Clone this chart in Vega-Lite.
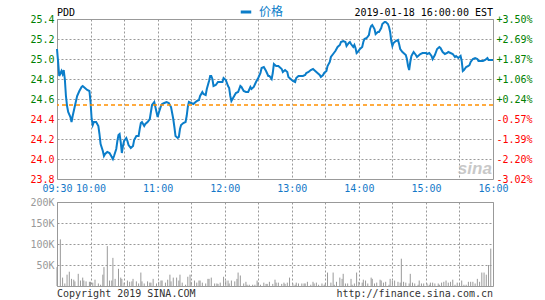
{
  "$schema": "https://vega.github.io/schema/vega-lite/v6.json",
  "padding": {"left": 29, "top": 4, "right": 8, "bottom": 0},
  "background": "white",
  "spacing": 2,
  "config": {
    "font": "DejaVu Sans Mono",
    "view": {"stroke": "#999", "strokeWidth": 1},
    "axis": {"domain": false, "ticks": false, "labelFont": "DejaVu Sans Mono", "labelFontSize": 10, "gridColor": "#999", "gridDash": [2, 2], "gridWidth": 1, "gridOpacity": 1, "labelPadding": 3, "title": null, "labelFlush": false, "labelOverlap": false}
  },
  "resolve": {"legend": {"color": "independent"}},
  "datasets": {
    "price": [
      {"m":0,"p":25.10},{"m":1,"p":24.97},{"m":2,"p":24.83},{"m":4,"p":24.88},{"m":5,"p":24.85},{"m":6,"p":24.89},{"m":7,"p":24.80},{"m":8,"p":24.63},{"m":9,"p":24.53},{"m":10,"p":24.47},
      {"m":12,"p":24.42},{"m":13,"p":24.37},{"m":14,"p":24.43},{"m":16,"p":24.53},{"m":18,"p":24.63},{"m":20,"p":24.68},{"m":22,"p":24.72},{"m":23,"p":24.73},{"m":25,"p":24.71},{"m":27,"p":24.69},
      {"m":29,"p":24.68},{"m":30,"p":24.57},{"m":31,"p":24.40},{"m":32,"p":24.34},{"m":33,"p":24.37},{"m":35,"p":24.37},{"m":37,"p":24.33},{"m":38,"p":24.25},{"m":39,"p":24.15},{"m":41,"p":24.08},
      {"m":42,"p":24.03},{"m":43,"p":24.05},{"m":45,"p":24.07},{"m":47,"p":24.06},{"m":48,"p":24.04},{"m":50,"p":24.00},{"m":51,"p":24.03},{"m":53,"p":24.10},{"m":54,"p":24.18},{"m":55,"p":24.24},
      {"m":56,"p":24.25},{"m":57,"p":24.17},{"m":58,"p":24.06},{"m":59,"p":24.13},{"m":60,"p":24.18},{"m":62,"p":24.21},{"m":63,"p":24.18},{"m":64,"p":24.14},{"m":66,"p":24.11},{"m":68,"p":24.13},
      {"m":69,"p":24.19},{"m":71,"p":24.23},{"m":73,"p":24.23},{"m":74,"p":24.30},{"m":75,"p":24.36},{"m":76,"p":24.37},{"m":78,"p":24.33},{"m":79,"p":24.35},{"m":81,"p":24.37},{"m":83,"p":24.40},
      {"m":84,"p":24.47},{"m":85,"p":24.54},{"m":87,"p":24.57},{"m":88,"p":24.52},{"m":89,"p":24.47},{"m":90,"p":24.42},{"m":91,"p":24.46},{"m":93,"p":24.53},{"m":94,"p":24.55},{"m":96,"p":24.56},
      {"m":98,"p":24.57},{"m":100,"p":24.56},{"m":102,"p":24.52},{"m":103,"p":24.46},{"m":104,"p":24.40},{"m":105,"p":24.32},{"m":106,"p":24.23},{"m":108,"p":24.21},{"m":109,"p":24.22},{"m":110,"p":24.30},
      {"m":111,"p":24.34},{"m":113,"p":24.36},{"m":115,"p":24.37},{"m":116,"p":24.43},{"m":117,"p":24.52},{"m":118,"p":24.57},{"m":120,"p":24.56},{"m":122,"p":24.55},{"m":124,"p":24.57},{"m":125,"p":24.58},
      {"m":127,"p":24.59},{"m":128,"p":24.63},{"m":130,"p":24.67},{"m":131,"p":24.65},{"m":133,"p":24.64},{"m":134,"p":24.70},{"m":136,"p":24.78},{"m":137,"p":24.83},{"m":138,"p":24.83},{"m":139,"p":24.80},
      {"m":140,"p":24.73},{"m":142,"p":24.74},{"m":144,"p":24.77},{"m":146,"p":24.77},{"m":148,"p":24.77},{"m":149,"p":24.81},{"m":151,"p":24.79},{"m":153,"p":24.73},{"m":154,"p":24.71},{"m":155,"p":24.63},
      {"m":156,"p":24.58},{"m":158,"p":24.62},{"m":160,"p":24.66},{"m":162,"p":24.67},{"m":164,"p":24.73},{"m":165,"p":24.72},{"m":167,"p":24.68},{"m":169,"p":24.67},{"m":171,"p":24.67},{"m":173,"p":24.72},
      {"m":174,"p":24.70},{"m":176,"p":24.72},{"m":178,"p":24.77},{"m":180,"p":24.81},{"m":182,"p":24.86},{"m":183,"p":24.91},{"m":185,"p":24.92},{"m":187,"p":24.88},{"m":189,"p":24.83},{"m":190,"p":24.83},
      {"m":192,"p":24.80},{"m":193,"p":24.86},{"m":194,"p":24.95},{"m":196,"p":24.93},{"m":198,"p":24.93},{"m":199,"p":24.92},{"m":201,"p":24.90},{"m":202,"p":24.87},{"m":204,"p":24.89},{"m":206,"p":24.87},
      {"m":207,"p":24.82},{"m":209,"p":24.80},{"m":211,"p":24.78},{"m":213,"p":24.77},{"m":214,"p":24.81},{"m":216,"p":24.83},{"m":218,"p":24.83},{"m":220,"p":24.83},{"m":222,"p":24.84},{"m":223,"p":24.86},
      {"m":225,"p":24.87},{"m":227,"p":24.89},{"m":229,"p":24.90},{"m":230,"p":24.89},{"m":232,"p":24.87},{"m":233,"p":24.86},{"m":235,"p":24.84},{"m":236,"p":24.82},{"m":238,"p":24.84},{"m":239,"p":24.86},
      {"m":241,"p":24.88},{"m":242,"p":24.93},{"m":244,"p":24.97},{"m":245,"p":25.02},{"m":247,"p":25.05},{"m":249,"p":25.08},{"m":251,"p":25.12},{"m":253,"p":25.14},{"m":254,"p":25.17},{"m":256,"p":25.18},
      {"m":258,"p":25.17},{"m":259,"p":25.13},{"m":261,"p":25.16},{"m":262,"p":25.17},{"m":263,"p":25.15},{"m":265,"p":25.12},{"m":266,"p":25.14},{"m":267,"p":25.11},{"m":268,"p":25.06},{"m":269,"p":25.07},
      {"m":271,"p":25.10},{"m":273,"p":25.12},{"m":274,"p":25.17},{"m":275,"p":25.20},{"m":277,"p":25.21},{"m":279,"p":25.24},{"m":280,"p":25.30},{"m":281,"p":25.33},{"m":282,"p":25.34},{"m":284,"p":25.30},
      {"m":285,"p":25.25},{"m":287,"p":25.27},{"m":288,"p":25.27},{"m":290,"p":25.31},{"m":291,"p":25.35},{"m":293,"p":25.37},{"m":294,"p":25.37},{"m":296,"p":25.35},{"m":297,"p":25.32},{"m":298,"p":25.27},
      {"m":299,"p":25.18},{"m":300,"p":25.13},{"m":301,"p":25.16},{"m":303,"p":25.18},{"m":305,"p":25.19},{"m":306,"p":25.15},{"m":307,"p":25.10},{"m":309,"p":25.07},{"m":310,"p":25.06},{"m":312,"p":25.04},
      {"m":313,"p":25.00},{"m":314,"p":24.93},{"m":315,"p":24.89},{"m":316,"p":24.97},{"m":317,"p":25.03},{"m":318,"p":25.05},{"m":319,"p":25.07},{"m":321,"p":25.04},{"m":322,"p":25.02},{"m":323,"p":25.03},
      {"m":325,"p":25.05},{"m":327,"p":25.06},{"m":330,"p":25.06},{"m":331,"p":25.05},{"m":333,"p":25.06},{"m":335,"p":25.03},{"m":336,"p":25.00},{"m":338,"p":25.04},{"m":340,"p":25.10},{"m":342,"p":25.12},
      {"m":343,"p":25.11},{"m":345,"p":25.07},{"m":347,"p":25.05},{"m":349,"p":25.06},{"m":350,"p":25.07},{"m":352,"p":25.06},{"m":354,"p":25.05},{"m":356,"p":25.02},{"m":357,"p":25.03},{"m":359,"p":25.01},
      {"m":361,"p":25.03},{"m":362,"p":24.98},{"m":363,"p":24.88},{"m":364,"p":24.89},{"m":366,"p":24.92},{"m":368,"p":24.93},{"m":369,"p":24.94},{"m":370,"p":24.97},{"m":372,"p":25.00},{"m":374,"p":25.01},
      {"m":376,"p":25.00},{"m":377,"p":24.98},{"m":379,"p":24.98},{"m":381,"p":24.98},{"m":383,"p":24.99},{"m":385,"p":25.01},{"m":386,"p":24.99},{"m":388,"p":24.99},{"m":390,"p":24.99}
    ],
    "volume": [
      {"m":0,"v":45000},{"m":3,"v":111000},{"m":5,"v":20000},{"m":7,"v":6000},{"m":9,"v":27000},{"m":11,"v":34000},{"m":13,"v":17000},{"m":15,"v":15000},{"m":16,"v":11000},{"m":19,"v":29000},
      {"m":21,"v":13000},{"m":23,"v":20000},{"m":24,"v":13000},{"m":26,"v":11000},{"m":29,"v":10000},{"m":30,"v":10000},{"m":32,"v":8000},{"m":34,"v":15000},{"m":37,"v":6000},{"m":39,"v":3000},
      {"m":41,"v":27000},{"m":42,"v":45000},{"m":45,"v":95000},{"m":47,"v":13000},{"m":49,"v":13000},{"m":50,"v":67000},{"m":52,"v":17000},{"m":55,"v":41000},{"m":57,"v":20000},{"m":58,"v":17000},
      {"m":60,"v":8000},{"m":63,"v":13000},{"m":65,"v":10000},{"m":67,"v":11000},{"m":68,"v":17000},{"m":71,"v":11000},{"m":73,"v":6000},{"m":75,"v":32000},{"m":76,"v":11000},{"m":78,"v":6000},
      {"m":81,"v":11000},{"m":83,"v":8000},{"m":84,"v":8000},{"m":86,"v":17000},{"m":89,"v":6000},{"m":91,"v":10000},{"m":93,"v":13000},{"m":94,"v":13000},{"m":97,"v":8000},{"m":99,"v":15000},
      {"m":101,"v":27000},{"m":102,"v":11000},{"m":104,"v":20000},{"m":107,"v":20000},{"m":109,"v":13000},{"m":110,"v":27000},{"m":112,"v":8000},{"m":115,"v":3000},{"m":117,"v":22000},{"m":119,"v":27000},
      {"m":120,"v":10000},{"m":123,"v":13000},{"m":125,"v":8000},{"m":127,"v":13000},{"m":128,"v":13000},{"m":130,"v":8000},{"m":133,"v":6000},{"m":135,"v":17000},{"m":136,"v":17000},{"m":138,"v":20000},
      {"m":141,"v":6000},{"m":143,"v":6000},{"m":144,"v":5000},{"m":146,"v":8000},{"m":149,"v":22000},{"m":151,"v":13000},{"m":153,"v":13000},{"m":154,"v":6000},{"m":156,"v":13000},{"m":159,"v":11000},
      {"m":161,"v":17000},{"m":162,"v":32000},{"m":164,"v":25000},{"m":167,"v":6000},{"m":169,"v":10000},{"m":170,"v":3000},{"m":172,"v":3000},{"m":175,"v":3000},{"m":177,"v":3000},{"m":179,"v":13000},
      {"m":180,"v":8000},{"m":182,"v":3000},{"m":185,"v":8000},{"m":187,"v":5000},{"m":188,"v":5000},{"m":190,"v":10000},{"m":193,"v":5000},{"m":195,"v":15000},{"m":196,"v":8000},{"m":198,"v":8000},
      {"m":201,"v":5000},{"m":203,"v":8000},{"m":204,"v":5000},{"m":206,"v":8000},{"m":208,"v":20000},{"m":211,"v":6000},{"m":213,"v":3000},{"m":214,"v":8000},{"m":216,"v":6000},{"m":219,"v":6000},
      {"m":221,"v":6000},{"m":222,"v":6000},{"m":224,"v":10000},{"m":227,"v":3000},{"m":229,"v":10000},{"m":230,"v":6000},{"m":232,"v":8000},{"m":234,"v":3000},{"m":237,"v":6000},{"m":239,"v":3000},
      {"m":240,"v":6000},{"m":242,"v":32000},{"m":245,"v":8000},{"m":247,"v":32000},{"m":248,"v":3000},{"m":250,"v":10000},{"m":253,"v":20000},{"m":255,"v":17000},{"m":256,"v":29000},{"m":258,"v":6000},
      {"m":260,"v":6000},{"m":263,"v":17000},{"m":264,"v":3000},{"m":266,"v":6000},{"m":268,"v":32000},{"m":270,"v":10000},{"m":273,"v":8000},{"m":274,"v":15000},{"m":276,"v":13000},{"m":278,"v":6000},
      {"m":281,"v":20000},{"m":282,"v":17000},{"m":284,"v":6000},{"m":286,"v":8000},{"m":289,"v":15000},{"m":290,"v":13000},{"m":292,"v":8000},{"m":294,"v":10000},{"m":297,"v":3000},{"m":298,"v":17000},
      {"m":300,"v":13000},{"m":302,"v":13000},{"m":305,"v":10000},{"m":307,"v":8000},{"m":308,"v":65000},{"m":310,"v":10000},{"m":312,"v":8000},{"m":315,"v":6000},{"m":316,"v":29000},{"m":318,"v":8000},
      {"m":320,"v":6000},{"m":323,"v":3000},{"m":324,"v":13000},{"m":326,"v":6000},{"m":328,"v":6000},{"m":331,"v":6000},{"m":333,"v":3000},{"m":334,"v":8000},{"m":336,"v":8000},{"m":338,"v":6000},
      {"m":341,"v":6000},{"m":342,"v":3000},{"m":344,"v":8000},{"m":346,"v":10000},{"m":348,"v":13000},{"m":350,"v":8000},{"m":352,"v":10000},{"m":354,"v":15000},{"m":356,"v":3000},{"m":358,"v":8000},
      {"m":360,"v":6000},{"m":362,"v":13000},{"m":364,"v":3000},{"m":366,"v":3000},{"m":368,"v":10000},{"m":370,"v":10000},{"m":372,"v":10000},{"m":374,"v":6000},{"m":376,"v":17000},{"m":378,"v":10000},
      {"m":380,"v":32000},{"m":382,"v":32000},{"m":384,"v":27000},{"m":386,"v":50000},{"m":388,"v":89000}
    ]
  },
  "vconcat": [
    {
      "width": 436,
      "height": 160,
      "layer": [
        {
          "layer": [
            {
              "data": {"name": "price"},
              "mark": {"type": "line", "strokeWidth": 2},
              "encoding": {
                "x": {"field": "m", "type": "quantitative", "scale": {"domain": [0, 390], "nice": false, "zero": false},
                  "axis": {"values": [0,30,60,90,120,150,180,210,240,270,300,330,360,390], "tickCount": 100, "grid": true, "labelColor": "#1478c8", "labelPadding": 4, "labelOverlap": false, "labelFlush": false,
                    "labelExpr": "(datum.value == 0 || (datum.value - 30) % 60 == 0) ? ((floor((datum.value + 570) / 60) < 10 ? '0' : '') + floor((datum.value + 570) / 60) + ':' + ((datum.value + 570) % 60 == 0 ? '00' : '30')) : ''"}},
                "y": {"field": "p", "type": "quantitative", "scale": {"domain": [23.8, 25.4], "nice": false, "zero": false},
                  "axis": {"values": [23.8,24.0,24.2,24.4,24.6,24.8,25.0,25.2,25.4], "tickCount": 100, "format": ".1f", "grid": true, "gridColor": "#999", "gridDash": [2, 2], "gridOpacity": 1, "gridWidth": 1, "labelOverlap": false, "labelFlush": false,
                    "labelColor": {"condition": {"test": "datum.value >= 24.54", "value": "#008000"}, "value": "#ff0000"}}},
                "color": {"datum": "价格", "scale": {"range": ["#0b7dc9"]},
                  "legend": {"orient": "none", "legendX": 182, "legendY": -14, "title": null, "symbolType": "stroke", "symbolStrokeWidth": 3, "symbolSize": 110, "labelFont": "Noto Sans CJK SC", "labelFontSize": 12, "labelColor": "#0b7dc9", "labelOffset": 6, "padding": 0}}
              }
            },
            {
              "data": {"values": [{"label": "2019-01-18 16:00:00 EST"}]},
              "mark": {"type": "text", "align": "right", "baseline": "alphabetic", "dy": -3, "font": "DejaVu Sans Mono", "fontSize": 10, "color": "#000"},
              "encoding": {"x": {"datum": 390, "type": "quantitative"}, "y": {"datum": 25.4, "type": "quantitative"}, "text": {"field": "label"}}
            },
            {
              "data": {"values": [{"label": "PDD"}]},
              "mark": {"type": "text", "align": "left", "baseline": "alphabetic", "dy": -3, "font": "DejaVu Sans Mono", "fontSize": 10, "color": "#000"},
              "encoding": {"x": {"datum": 0, "type": "quantitative"}, "y": {"datum": 25.4, "type": "quantitative"}, "text": {"field": "label"}}
            },
            {
              "data": {"values": [{"label": "sina"}]},
              "mark": {"type": "text", "align": "right", "baseline": "alphabetic", "font": "Liberation Sans", "fontSize": 17, "fontStyle": "italic", "fontWeight": "bold", "color": "#bbb", "opacity": 0.8},
              "encoding": {"x": {"datum": 389, "type": "quantitative"}, "y": {"datum": 23.85, "type": "quantitative"}, "text": {"field": "label"}}
            }
          ]
        },
        {
          "data": {"values": [{"prevClose": 24.54}]},
          "mark": {"type": "rule", "color": "#ff9000", "strokeDash": [4, 3], "strokeWidth": 1.5},
          "encoding": {
            "y": {"field": "prevClose", "type": "quantitative", "scale": {"domain": [23.8, 25.4], "nice": false, "zero": false},
              "axis": {"orient": "right", "values": [23.8,24.0,24.2,24.4,24.6,24.8,25.0,25.2,25.4], "tickCount": 100, "grid": false, "labelOverlap": false, "labelFlush": false,
                "labelExpr": "(datum.value >= 24.54 ? '+' : '-') + format(abs(datum.value / 24.54 - 1) * 100, '.2f') + '%'",
                "labelColor": {"condition": {"test": "datum.value >= 24.54", "value": "#008000"}, "value": "#ff0000"}}}
          }
        }
      ],
      "resolve": {"scale": {"y": "independent"}}
    },
    {
      "width": 436,
      "height": 84,
      "layer": [
        {
          "data": {"name": "volume"},
          "mark": {"type": "rule", "color": "#999", "strokeWidth": 1},
          "encoding": {
            "x": {"field": "m", "type": "quantitative", "scale": {"domain": [0, 390], "nice": false, "zero": false},
              "axis": {"values": [0,30,60,90,120,150,180,210,240,270,300,330,360,390], "tickCount": 100, "grid": true, "labels": false}},
            "y": {"field": "v", "type": "quantitative", "scale": {"domain": [0, 200000], "nice": false},
              "axis": {"values": [0, 50000, 100000, 150000, 200000], "tickCount": 100, "grid": true, "gridColor": "#999", "gridDash": [2, 2], "gridOpacity": 1, "gridWidth": 1, "labelColor": "#999", "labelOverlap": false, "labelFlush": false,
                "labelExpr": "datum.value == 0 ? '' : (datum.value / 1000) + 'K'"}},
            "y2": {"datum": 0}
          }
        },
        {
          "data": {"values": [{"label": "Copyright 2019 SINA.COM"}]},
          "mark": {"type": "text", "align": "left", "baseline": "top", "dy": 3, "font": "DejaVu Sans Mono", "fontSize": 10, "color": "#333"},
          "encoding": {"x": {"datum": 0, "type": "quantitative"}, "y": {"datum": 0, "type": "quantitative"}, "text": {"field": "label"}}
        },
        {
          "data": {"values": [{"label": "http://finance.sina.com.cn"}]},
          "mark": {"type": "text", "align": "right", "baseline": "top", "dy": 3, "font": "DejaVu Sans Mono", "fontSize": 10, "color": "#333"},
          "encoding": {"x": {"datum": 390, "type": "quantitative"}, "y": {"datum": 0, "type": "quantitative"}, "text": {"field": "label"}}
        }
      ]
    }
  ]
}
